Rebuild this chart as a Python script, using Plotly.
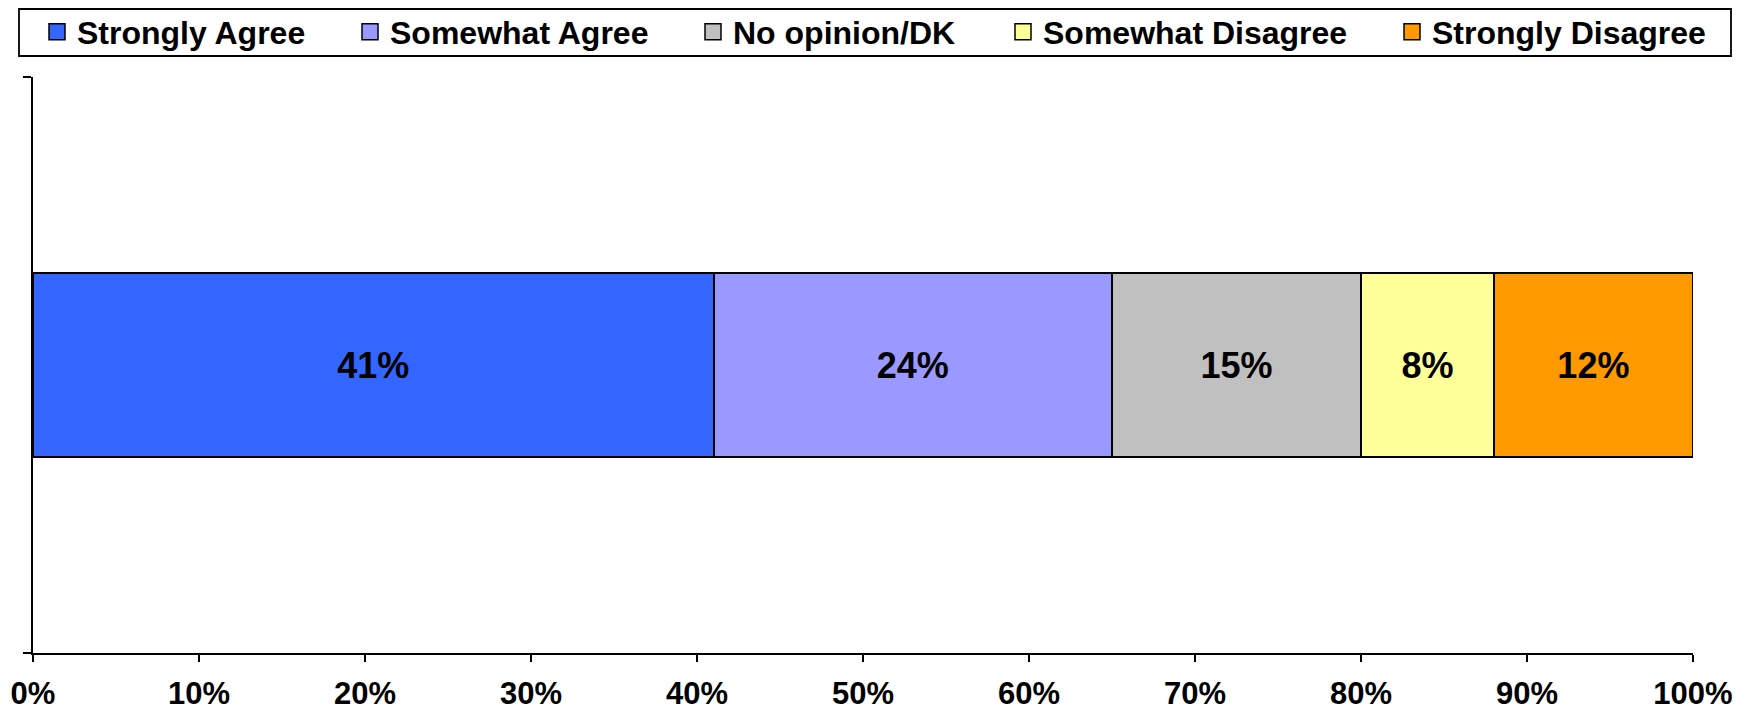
import plotly.graph_objects as go

categories = [""]
series_names = ["Strongly Agree", "Somewhat Agree", "No opinion/DK", "Somewhat Disagree", "Strongly Disagree"]
series_values = [41, 24, 15, 8, 12]
colors = ["#3366FF", "#9999FF", "#C0C0C0", "#FFFF99", "#FF9900"]
tick_vals = [0, 10, 20, 30, 40, 50, 60, 70, 80, 90, 100]
tick_labels = [f"{v}%" for v in tick_vals]

FONT = "Liberation Sans, Arial, sans-serif"

# figure geometry (pixels)
W, H = 1730, 705
L, R, T, B = 25, 45, 69, 60
PW = W - L - R
PH = H - T - B

def px_x(p):
    return (p - L) / PW

def px_y(p):
    return (H - B - p) / PH

# legend entry left positions (pixels, figure coords)
legend_left_px = [29, 342, 685, 995, 1384]
legend_center_y_px = 24

fig = go.Figure()
for name, val, col in zip(series_names, series_values, colors):
    fig.add_trace(go.Bar(
        name=name,
        x=[val],
        y=categories,
        orientation="h",
        marker=dict(color=col, line=dict(color="#000000", width=1.8)),
        text=[f"{val}%"],
        textposition="inside",
        insidetextanchor="middle",
        textangle=0,
        constraintext="none",
        textfont=dict(family=FONT, size=36, color="#000000", weight="bold"),
        hoverinfo="skip",
        showlegend=False,
    ))

# legend entries (square swatches)
for i, (name, col) in enumerate(zip(series_names, colors)):
    fig.add_trace(go.Scatter(
        name=name,
        x=[None], y=[None],
        mode="markers",
        marker=dict(symbol="square", size=16, color=col, line=dict(color="#000000", width=1.5)),
        showlegend=True,
        legend="legend" if i == 0 else f"legend{i+1}",
        hoverinfo="skip",
    ))

legend_common = dict(
    orientation="h",
    xanchor="left",
    yanchor="middle",
    y=px_y(legend_center_y_px),
    borderwidth=0,
    bgcolor="rgba(0,0,0,0)",
    itemsizing="trace",
    font=dict(family=FONT, size=32, color="#000000", weight="bold"),
)
legend_layout = {}
for i, lx in enumerate(legend_left_px):
    key = "legend" if i == 0 else f"legend{i+1}"
    legend_layout[key] = dict(legend_common, x=px_x(lx))

fig.update_layout(
    barmode="stack",
    bargap=0.68,
    width=W,
    height=H,
    margin=dict(l=L, r=R, t=T, b=B, autoexpand=False),
    paper_bgcolor="white",
    plot_bgcolor="white",
    font=dict(family=FONT, size=30, color="#000000", weight="bold"),
    shapes=[dict(
        type="rect", xref="paper", yref="paper",
        x0=px_x(11), x1=px_x(1723), y0=px_y(1), y1=px_y(48),
        line=dict(color="#000000", width=1.8),
        fillcolor="rgba(0,0,0,0)",
        layer="below",
    )],
    xaxis=dict(
        range=[0, 100],
        tickvals=tick_vals,
        ticktext=tick_labels,
        showgrid=False,
        zeroline=False,
        showline=True,
        linecolor="#000000",
        linewidth=2,
        ticks="outside",
        ticklen=7,
        tickwidth=2,
        tickcolor="#000000",
        ticklabelstandoff=5,
        tickfont=dict(family=FONT, size=31, color="#000000", weight="bold"),
        fixedrange=True,
    ),
    yaxis=dict(
        type="category",
        range=[-0.5, 0.5],
        showgrid=False,
        zeroline=False,
        showline=True,
        linecolor="#000000",
        linewidth=2,
        ticks="outside",
        tickson="boundaries",
        ticklen=8,
        tickwidth=2,
        tickcolor="#000000",
        showticklabels=False,
        fixedrange=True,
    ),
    **legend_layout,
)

fig.write_html("out.html")
